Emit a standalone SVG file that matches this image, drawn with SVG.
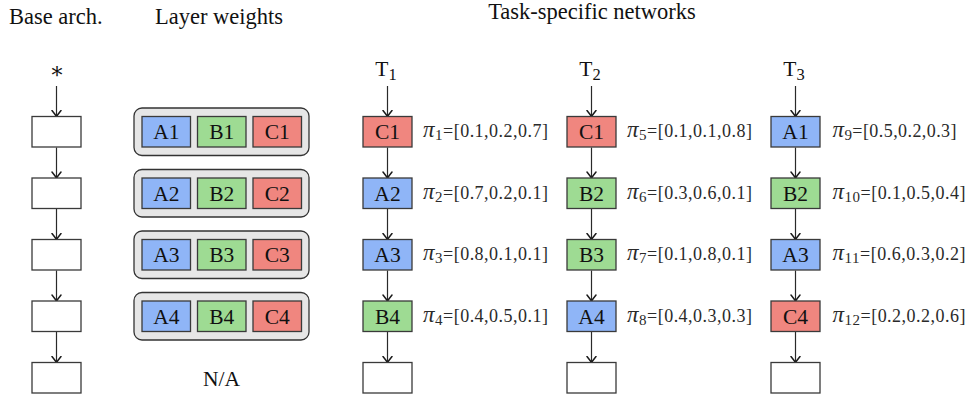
<svg xmlns="http://www.w3.org/2000/svg" width="969" height="399" viewBox="0 0 969 399">
  <style>
    .t { font-family: "Liberation Serif", "Times New Roman", serif; font-size: 22.5px; fill: #111; }
    .lbl { font-family: "Liberation Serif", "Times New Roman", serif; font-size: 21.5px; fill: #111; text-anchor: middle; }
    .star { font-family: "DejaVu Serif", serif; font-size: 22px; fill: #111; text-anchor: middle; }
    .pi { font-family: "Liberation Serif", "Times New Roman", serif; font-size: 18px; fill: #2a2a2a; }
    .pi .g { font-style: italic; font-size: 23px; }
    .pi .s { font-size: 15px; }
    .box { stroke: #3a3a3a; stroke-width: 1.3; }
    .empty { fill: #fff; }
    .A { fill: #8fb5f7; }
    .B { fill: #9edb93; }
    .C { fill: #f0867f; }
    .grp { fill: #e6e6e6; stroke: #333; stroke-width: 1.3; }
    .edge { stroke: #2a2a2a; stroke-width: 1.2; fill: none; marker-end: url(#tip); }
  </style>
  <defs>
    <marker id="tip" viewBox="-7 -6 8 12" refX="0" refY="0" markerWidth="8" markerHeight="12" markerUnits="userSpaceOnUse" orient="auto">
      <path d="M -6,-4.5 Q -1.8,-1.2 0,0 Q -1.8,1.2 -6,4.5" fill="none" stroke="#1a1a1a" stroke-width="1.5" stroke-linecap="round"/>
    </marker>
  </defs>

  <!-- column headings -->
  <text class="t" x="9" y="24">Base arch.</text>
  <text class="t" x="155" y="24">Layer weights</text>
  <text class="t" x="592" y="19" text-anchor="middle">Task-specific networks</text>

  <!-- connectors -->
  <g id="connectors">
    <!-- base architecture -->
    <line class="edge" x1="56.5" y1="86" x2="56.5" y2="116.5"/>
    <line class="edge" x1="56.5" y1="147.5" x2="56.5" y2="178"/>
    <line class="edge" x1="56.5" y1="209" x2="56.5" y2="239.5"/>
    <line class="edge" x1="56.5" y1="270.5" x2="56.5" y2="301"/>
    <line class="edge" x1="56.5" y1="332" x2="56.5" y2="362.5"/>
    <!-- task 1 -->
    <line class="edge" x1="387.5" y1="86" x2="387.5" y2="116.5"/>
    <line class="edge" x1="387.5" y1="147.5" x2="387.5" y2="178"/>
    <line class="edge" x1="387.5" y1="209" x2="387.5" y2="239.5"/>
    <line class="edge" x1="387.5" y1="270.5" x2="387.5" y2="301"/>
    <line class="edge" x1="387.5" y1="332" x2="387.5" y2="362.5"/>
    <!-- task 2 -->
    <line class="edge" x1="591.5" y1="86" x2="591.5" y2="116.5"/>
    <line class="edge" x1="591.5" y1="147.5" x2="591.5" y2="178"/>
    <line class="edge" x1="591.5" y1="209" x2="591.5" y2="239.5"/>
    <line class="edge" x1="591.5" y1="270.5" x2="591.5" y2="301"/>
    <line class="edge" x1="591.5" y1="332" x2="591.5" y2="362.5"/>
    <!-- task 3 -->
    <line class="edge" x1="795.5" y1="86" x2="795.5" y2="116.5"/>
    <line class="edge" x1="795.5" y1="147.5" x2="795.5" y2="178"/>
    <line class="edge" x1="795.5" y1="209" x2="795.5" y2="239.5"/>
    <line class="edge" x1="795.5" y1="270.5" x2="795.5" y2="301"/>
    <line class="edge" x1="795.5" y1="332" x2="795.5" y2="362.5"/>
  </g>

  <!-- base architecture -->
  <g id="base-input"><text class="star" x="57" y="83">*</text></g>
  <g id="base-1"><rect class="box empty" x="32" y="116.5" width="49" height="30.5"/></g>
  <g id="base-2"><rect class="box empty" x="32" y="178" width="49" height="30.5"/></g>
  <g id="base-3"><rect class="box empty" x="32" y="239.5" width="49" height="30.5"/></g>
  <g id="base-4"><rect class="box empty" x="32" y="301" width="49" height="30.5"/></g>
  <g id="base-5"><rect class="box empty" x="32" y="362.5" width="49" height="30.5"/></g>

  <!-- layer weights -->
  <g id="layer-1">
    <rect class="grp" x="134" y="108" width="175" height="47.5" rx="8"/>
    <rect class="box A" x="142" y="116.5" width="48.5" height="30.5"/><text class="lbl" x="166.3" y="139">A1</text>
    <rect class="box B" x="197.5" y="116.5" width="48.5" height="30.5"/><text class="lbl" x="221.8" y="139">B1</text>
    <rect class="box C" x="253" y="116.5" width="48.5" height="30.5"/><text class="lbl" x="277.3" y="139">C1</text>
  </g>
  <g id="layer-2">
    <rect class="grp" x="134" y="169.5" width="175" height="47.5" rx="8"/>
    <rect class="box A" x="142" y="178" width="48.5" height="30.5"/><text class="lbl" x="166.3" y="200.5">A2</text>
    <rect class="box B" x="197.5" y="178" width="48.5" height="30.5"/><text class="lbl" x="221.8" y="200.5">B2</text>
    <rect class="box C" x="253" y="178" width="48.5" height="30.5"/><text class="lbl" x="277.3" y="200.5">C2</text>
  </g>
  <g id="layer-3">
    <rect class="grp" x="134" y="231" width="175" height="47.5" rx="8"/>
    <rect class="box A" x="142" y="239.5" width="48.5" height="30.5"/><text class="lbl" x="166.3" y="262">A3</text>
    <rect class="box B" x="197.5" y="239.5" width="48.5" height="30.5"/><text class="lbl" x="221.8" y="262">B3</text>
    <rect class="box C" x="253" y="239.5" width="48.5" height="30.5"/><text class="lbl" x="277.3" y="262">C3</text>
  </g>
  <g id="layer-4">
    <rect class="grp" x="134" y="292.5" width="175" height="47.5" rx="8"/>
    <rect class="box A" x="142" y="301" width="48.5" height="30.5"/><text class="lbl" x="166.3" y="323.5">A4</text>
    <rect class="box B" x="197.5" y="301" width="48.5" height="30.5"/><text class="lbl" x="221.8" y="323.5">B4</text>
    <rect class="box C" x="253" y="301" width="48.5" height="30.5"/><text class="lbl" x="277.3" y="323.5">C4</text>
  </g>
  <g id="layer-5"><text class="lbl" x="221.5" y="386">N/A</text></g>

  <!-- task 1 -->
  <g id="t1-input"><text class="lbl" x="386" y="76">T<tspan font-size="16.5" dy="3.5">1</tspan></text></g>
  <g id="t1-1"><rect class="box C" x="363" y="116.5" width="49" height="30.5"/><text class="lbl" x="387.5" y="139">C1</text>
    <text class="pi" x="423" y="137" textLength="125" lengthAdjust="spacing"><tspan class="g">π</tspan><tspan class="s" dy="3">1</tspan><tspan dy="-3">=[0.1,0.2,0.7]</tspan></text></g>
  <g id="t1-2"><rect class="box A" x="363" y="178" width="49" height="30.5"/><text class="lbl" x="387.5" y="200.5">A2</text>
    <text class="pi" x="423" y="198.5" textLength="125" lengthAdjust="spacing"><tspan class="g">π</tspan><tspan class="s" dy="3">2</tspan><tspan dy="-3">=[0.7,0.2,0.1]</tspan></text></g>
  <g id="t1-3"><rect class="box A" x="363" y="239.5" width="49" height="30.5"/><text class="lbl" x="387.5" y="262">A3</text>
    <text class="pi" x="423" y="260" textLength="125" lengthAdjust="spacing"><tspan class="g">π</tspan><tspan class="s" dy="3">3</tspan><tspan dy="-3">=[0.8,0.1,0.1]</tspan></text></g>
  <g id="t1-4"><rect class="box B" x="363" y="301" width="49" height="30.5"/><text class="lbl" x="387.5" y="323.5">B4</text>
    <text class="pi" x="423" y="321.5" textLength="125" lengthAdjust="spacing"><tspan class="g">π</tspan><tspan class="s" dy="3">4</tspan><tspan dy="-3">=[0.4,0.5,0.1]</tspan></text></g>
  <g id="t1-5"><rect class="box empty" x="363" y="362.5" width="49" height="30.5"/></g>

  <!-- task 2 -->
  <g id="t2-input"><text class="lbl" x="590" y="76">T<tspan font-size="16.5" dy="3.5">2</tspan></text></g>
  <g id="t2-1"><rect class="box C" x="567" y="116.5" width="49" height="30.5"/><text class="lbl" x="591.5" y="139">C1</text>
    <text class="pi" x="627" y="137" textLength="125" lengthAdjust="spacing"><tspan class="g">π</tspan><tspan class="s" dy="3">5</tspan><tspan dy="-3">=[0.1,0.1,0.8]</tspan></text></g>
  <g id="t2-2"><rect class="box B" x="567" y="178" width="49" height="30.5"/><text class="lbl" x="591.5" y="200.5">B2</text>
    <text class="pi" x="627" y="198.5" textLength="125" lengthAdjust="spacing"><tspan class="g">π</tspan><tspan class="s" dy="3">6</tspan><tspan dy="-3">=[0.3,0.6,0.1]</tspan></text></g>
  <g id="t2-3"><rect class="box B" x="567" y="239.5" width="49" height="30.5"/><text class="lbl" x="591.5" y="262">B3</text>
    <text class="pi" x="627" y="260" textLength="125" lengthAdjust="spacing"><tspan class="g">π</tspan><tspan class="s" dy="3">7</tspan><tspan dy="-3">=[0.1,0.8,0.1]</tspan></text></g>
  <g id="t2-4"><rect class="box A" x="567" y="301" width="49" height="30.5"/><text class="lbl" x="591.5" y="323.5">A4</text>
    <text class="pi" x="627" y="321.5" textLength="125" lengthAdjust="spacing"><tspan class="g">π</tspan><tspan class="s" dy="3">8</tspan><tspan dy="-3">=[0.4,0.3,0.3]</tspan></text></g>
  <g id="t2-5"><rect class="box empty" x="567" y="362.5" width="49" height="30.5"/></g>

  <!-- task 3 -->
  <g id="t3-input"><text class="lbl" x="794" y="76">T<tspan font-size="16.5" dy="3.5">3</tspan></text></g>
  <g id="t3-1"><rect class="box A" x="771" y="116.5" width="49" height="30.5"/><text class="lbl" x="795.5" y="139">A1</text>
    <text class="pi" x="832.5" y="137" textLength="124" lengthAdjust="spacing"><tspan class="g">π</tspan><tspan class="s" dy="3">9</tspan><tspan dy="-3">=[0.5,0.2,0.3]</tspan></text></g>
  <g id="t3-2"><rect class="box B" x="771" y="178" width="49" height="30.5"/><text class="lbl" x="795.5" y="200.5">B2</text>
    <text class="pi" x="832.5" y="198.5" textLength="133" lengthAdjust="spacing"><tspan class="g">π</tspan><tspan class="s" dy="3">10</tspan><tspan dy="-3">=[0.1,0.5,0.4]</tspan></text></g>
  <g id="t3-3"><rect class="box A" x="771" y="239.5" width="49" height="30.5"/><text class="lbl" x="795.5" y="262">A3</text>
    <text class="pi" x="832.5" y="260" textLength="133" lengthAdjust="spacing"><tspan class="g">π</tspan><tspan class="s" dy="3">11</tspan><tspan dy="-3">=[0.6,0.3,0.2]</tspan></text></g>
  <g id="t3-4"><rect class="box C" x="771" y="301" width="49" height="30.5"/><text class="lbl" x="795.5" y="323.5">C4</text>
    <text class="pi" x="832.5" y="321.5" textLength="133" lengthAdjust="spacing"><tspan class="g">π</tspan><tspan class="s" dy="3">12</tspan><tspan dy="-3">=[0.2,0.2,0.6]</tspan></text></g>
  <g id="t3-5"><rect class="box empty" x="771" y="362.5" width="49" height="30.5"/></g>
</svg>
